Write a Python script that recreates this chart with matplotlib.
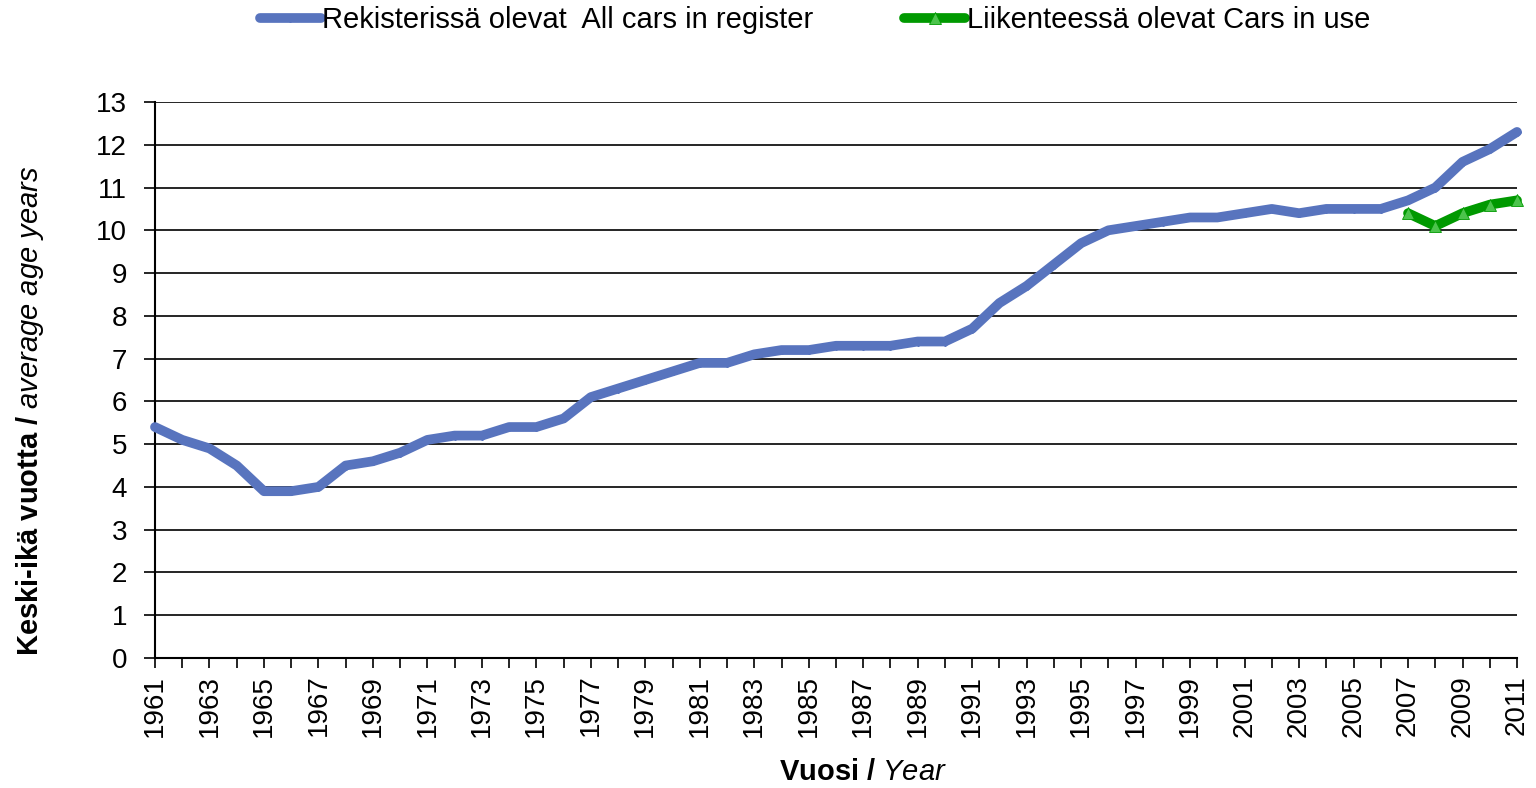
import matplotlib

matplotlib.use("Agg")
import matplotlib.pyplot as plt
from matplotlib.ticker import MultipleLocator

plt.rcParams.update(
    {
        "font.family": ["Liberation Sans", "DejaVu Sans"],
        "mathtext.fontset": "custom",
        "mathtext.rm": "Liberation Sans",
        "mathtext.it": "Liberation Sans:italic",
        "mathtext.bf": "Liberation Sans:bold",
    }
)

# Keski-ikä vuosittain
years = list(range(1961, 2012))
all_cars = [
    5.4, 5.1, 4.9, 4.5, 3.9, 3.9, 4.0, 4.5, 4.6, 4.8,
    5.1, 5.2, 5.2, 5.4, 5.4, 5.6, 6.1, 6.3, 6.5, 6.7,
    6.9, 6.9, 7.1, 7.2, 7.2, 7.3, 7.3, 7.3, 7.4, 7.4,
    7.7, 8.3, 8.7, 9.2, 9.7, 10.0, 10.1, 10.2, 10.3, 10.3,
    10.4, 10.5, 10.4, 10.5, 10.5, 10.5, 10.7, 11.0, 11.6, 11.9,
    12.3,
]
use_years = [2007, 2008, 2009, 2010, 2011]
cars_in_use = [10.4, 10.1, 10.4, 10.6, 10.7]

label_all = "Rekisterissä olevat  All cars in register"
label_use = "Liikenteessä olevat Cars in use"

fig = plt.figure(figsize=(15.36, 7.88), dpi=100)
ax = fig.add_axes([155 / 1536, 1 - 658 / 788, (1517 - 155) / 1536, (658 - 102) / 788])

ax.plot(years, all_cars, color="#5874BE", linewidth=7, marker="D", markersize=4,
        markerfacecolor="#5874BE", markeredgecolor="#5874BE", solid_capstyle="round",
        solid_joinstyle="round", clip_on=False, label=label_all, zorder=3)
ax.plot(use_years, cars_in_use, color="#009900", linewidth=7, marker="^", markersize=8,
        markerfacecolor="#4CC44C", markeredgecolor="#009900", markeredgewidth=0.6,
        solid_capstyle="round", solid_joinstyle="round", clip_on=False,
        label=label_use, zorder=4)

ax.set_xlim(1961, 2011)
ax.set_ylim(0, 13)
ax.yaxis.set_major_locator(MultipleLocator(1))
ax.set_xticks(years, minor=True)
ax.set_xticks(years[::2])
ax.tick_params(axis="x", which="both", direction="out", length=7, width=1.2, colors="black",
               labelsize=20, labelrotation=90, pad=5)
ax.tick_params(axis="y", direction="out", length=8, width=1.2, labelsize=20, pad=12)
ax.grid(axis="y", color="black", linewidth=1.2)
ax.set_axisbelow(True)
for side in ("top", "right"):
    ax.spines[side].set_visible(False)
for side in ("left", "bottom"):
    ax.spines[side].set_linewidth(1.5)

fig.text(863 / 1536, 1 - 772 / 788, r"Vuosi / $\mathit{Year}$", fontsize=21,
         fontweight="bold", ha="center", va="center")
fig.text(30 / 1536, 1 - 411 / 788, r"Keski-ikä vuotta / $\mathit{average\ age\ years}$",
         fontsize=21, fontweight="bold", ha="center", va="center", rotation=90)

fig.legend(loc="center", bbox_to_anchor=(815 / 1536, 1 - 20 / 788), ncol=2, frameon=False,
           fontsize=21, handlelength=2.1, handletextpad=0.05, columnspacing=3.1)

fig.savefig("out.png", dpi=100)
